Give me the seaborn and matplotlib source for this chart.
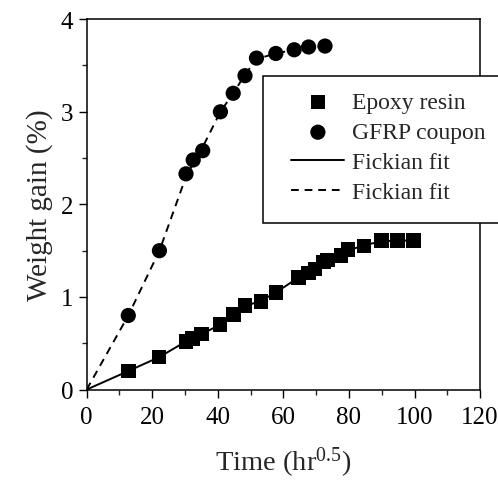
import matplotlib
matplotlib.use('Agg')
import matplotlib.pyplot as plt
from matplotlib.patches import Rectangle
from matplotlib.ticker import MultipleLocator
import pandas as pd
import seaborn as sns

epoxy_t = [12.7, 22.1, 30.3, 32.3, 35.1, 40.7, 44.8, 48.3, 53.2, 57.8,
           64.6, 67.7, 69.7, 72.3, 73.5, 77.6, 79.7, 84.6, 90.0, 94.8, 99.7]
epoxy_w = [0.20, 0.35, 0.52, 0.55, 0.60, 0.70, 0.81, 0.91, 0.95, 1.05,
           1.21, 1.26, 1.30, 1.38, 1.40, 1.45, 1.51, 1.55, 1.61, 1.61, 1.61]

gfrp_t = [12.7, 22.2, 30.3, 32.5, 35.4, 40.8, 44.7, 48.3, 51.8, 57.7,
          63.3, 67.7, 72.7]
gfrp_w = [0.80, 1.50, 2.33, 2.48, 2.58, 3.00, 3.20, 3.39, 3.58, 3.63,
          3.67, 3.70, 3.71]

# Fickian fit curves
fit_epoxy_t = [0, 12.7, 22.1, 30.3, 35.1, 40.7, 44.8, 48.3, 53.2, 57.8,
               64.6, 69.7, 73.5, 79.7, 84.6, 90.0, 94.8, 99.7]
fit_epoxy_w = [0, 0.20, 0.35, 0.52, 0.60, 0.70, 0.81, 0.90, 0.96, 1.05,
               1.21, 1.30, 1.40, 1.50, 1.56, 1.60, 1.61, 1.61]
fit_gfrp_t = [0, 12.7, 22.2, 30.3, 35.4, 40.8, 44.7, 48.3, 51.8, 57.7,
              63.3, 67.7, 72.7]
fit_gfrp_w = [0, 0.80, 1.50, 2.30, 2.62, 3.00, 3.20, 3.40, 3.57, 3.63,
              3.67, 3.69, 3.71]

epoxy = pd.DataFrame({'t': epoxy_t, 'w': epoxy_w})
gfrp = pd.DataFrame({'t': gfrp_t, 'w': gfrp_w})
fit_e = pd.DataFrame({'t': fit_epoxy_t, 'w': fit_epoxy_w})
fit_g = pd.DataFrame({'t': fit_gfrp_t, 'w': fit_gfrp_w})

sns.set_style('ticks')
plt.rcParams['font.family'] = ['Liberation Serif', 'DejaVu Serif']
plt.rcParams['mathtext.fontset'] = 'custom'
plt.rcParams['mathtext.rm'] = 'Liberation Serif'
plt.rcParams['mathtext.default'] = 'regular'

fig = plt.figure(figsize=(4.98, 4.81), dpi=100)
ax = fig.add_axes([0.174, 0.188, 0.79, 0.770])

sns.lineplot(data=fit_e, x='t', y='w', ax=ax, color='black', lw=1.4,
             label='_fit_e', sort=False)
sns.lineplot(data=fit_g, x='t', y='w', ax=ax, color='black', lw=1.4,
             linestyle=(0, (4, 3)), label='_fit_g', sort=False)
sns.scatterplot(data=epoxy, x='t', y='w', ax=ax, marker='s', s=110,
                color='black', edgecolor='none', label='Epoxy resin', zorder=3)
sns.scatterplot(data=gfrp, x='t', y='w', ax=ax, marker='o', s=120,
                color='black', edgecolor='none', label='GFRP coupon', zorder=3)

ax.set_xlim(0, 120)
ax.set_ylim(0, 4)
ax.xaxis.set_major_locator(MultipleLocator(20))
ax.xaxis.set_minor_locator(MultipleLocator(10))
ax.yaxis.set_major_locator(MultipleLocator(1))
ax.yaxis.set_minor_locator(MultipleLocator(0.5))
ax.tick_params(which='major', direction='out', length=6, width=1,
               labelsize=18, colors='black')
ax.tick_params(axis='x', which='major', pad=6)
ax.tick_params(which='minor', direction='out', length=3.5, width=1)
for side in ax.spines.values():
    side.set_visible(True)
    side.set_linewidth(1.1)
    side.set_color('black')

ax.set_xlabel('Time (hr$^{0.5}$)', fontsize=20.5, labelpad=12)
ax.set_ylabel('Weight gain (%)', fontsize=21, labelpad=6)

h, l = ax.get_legend_handles_labels()
lines = ax.get_lines()
handles = [h[l.index('Epoxy resin')], h[l.index('GFRP coupon')], lines[0], lines[1]]
labels = ['Epoxy resin', 'GFRP coupon', 'Fickian fit', 'Fickian fit']
leg = ax.legend(handles, labels, loc='upper left', bbox_to_anchor=(0.585, 0.807),
                bbox_transform=fig.transFigure, fontsize=17, frameon=False,
                borderpad=0, handlelength=2.25, handletextpad=0.3,
                labelspacing=0.36, borderaxespad=0)
leg.set_zorder(6)

# legend frame runs past the right edge of the figure and hides the right spine
box = Rectangle((263 / 498, 1 - 224 / 481), 0.6, 147 / 481,
                transform=fig.transFigure, facecolor='white',
                edgecolor='black', lw=1.1, clip_on=False, zorder=5)
ax.add_artist(box)

fig.savefig('out.png', dpi=100)
